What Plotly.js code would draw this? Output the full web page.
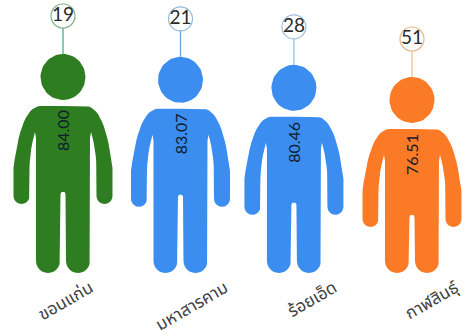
<!DOCTYPE html>
<html>
<head>
<meta charset="utf-8">
<script src="https://cdn.plot.ly/plotly-3.0.1.min.js"></script>
<style>html,body{margin:0;padding:0;background:#fff}#c{width:468px;height:336px}</style>
</head>
<body>
<div id="c"></div>
<script>
// Data
const provinces = ["ขอนแก่น", "มหาสารคาม", "ร้อยเอ็ด", "กาฬสินธุ์"];
const values = [84.00, 83.07, 80.46, 76.51];
const valueLabels = ["84.00", "83.07", "80.46", "76.51"];
const ranks = [19, 21, 28, 51];
const bodyColors = ["#2e7d20", "#3b8df0", "#3b8df0", "#fb7a26"];
const stemColors = ["#5aa39a", "#62a8dc", "#8cc0e8", "#f6bd85"];
const ringColors = ["#7fb08a", "#8fb8dc", "#9fbfdc", "#e0b98a"];
const slots = [0, 1.01, 1.985, 3];
const labelNudges = [-0.11, 0.04, 0, 0.03];

// Scale: px per axis unit
const W = 468, H = 336, PLOT_B = 62;
const X0 = 63, PX_X = 116.33;
const BASE = 12.66, PX_Y = 3.07, PLOT_H = H - PLOT_B, BASE_PX = 273;

// Figure glyph, drawn in px offsets from the head top on the figure's centre
function arc(cx, cy, rx, ry, a0, a1, n) {
  const out = [];
  for (let k = 0; k <= n; k++) {
    const a = (a0 + (a1 - a0) * k / n) * Math.PI / 180;
    out.push([cx + rx * Math.cos(a), cy + ry * Math.sin(a)]);
  }
  return out;
}
function quad(p0, c, p1, n) {
  const out = [];
  for (let k = 0; k <= n; k++) {
    const t = k / n, u = 1 - t;
    out.push([u*u*p0[0] + 2*u*t*c[0] + t*t*p1[0], u*u*p0[1] + 2*u*t*c[1] + t*t*p1[1]]);
  }
  return out;
}
function halfBody(L) {
  return [].concat(
    [[0, 52]],
    quad([23, 52], [42, 53], [49.5, 114], 14),
    [[49.5, 142]],
    arc(41.5, 142, 8, 8, 0, 180, 10),
    quad([33.5, 114], [33, 95], [28, 78], 6),
    [[27, 84], [27, L - 12]],
    arc(15, L - 12, 12, 12, 0, 180, 12),
    [[2.5, 140], [1.5, 138], [0, 138]]
  );
}
function figure(i) {
  const x = [], y = [];
  const head = values[i];
  const L = (head - BASE) * PX_Y;
  const add = p => { x.push(slots[i] + p[0] / PX_X); y.push(head - p[1] / PX_Y); };
  arc(0, 23, 22.5, 23, 0, 360, 60).forEach(add);
  x.push(null); y.push(null);
  const right = halfBody(L);
  right.forEach(add);
  right.slice().reverse().forEach(p => add([-p[0], p[1]]));
  return { x, y };
}

const traces = [];
provinces.forEach((name, i) => {
  const g = figure(i);
  traces.push({
    type: "scatter", mode: "lines", x: g.x, y: g.y, fill: "toself",
    fillcolor: bodyColors[i], line: { width: 0, color: bodyColors[i] },
    hoverinfo: "skip", showlegend: false, name
  });
  traces.push({
    type: "scatter", mode: "lines",
    x: [slots[i], slots[i]], y: [values[i], values[i] + 38 / PX_Y],
    line: { color: stemColors[i], width: 1.3 }, hoverinfo: "skip", showlegend: false
  });
  traces.push({
    type: "scatter", mode: "markers+text",
    x: [slots[i]], y: [values[i] + 38 / PX_Y],
    text: [String(ranks[i])], textposition: "middle center",
    textfont: { family: "Lato, sans-serif", size: 19, color: "#2a2a2a" },
    marker: { size: 24, color: "#ffffff", line: { color: ringColors[i], width: 1.2 } },
    hoverinfo: "skip", showlegend: false
  });
});

const annotations = provinces.map((_, i) => ({
  x: slots[i], y: values[i] - 77 / PX_Y, xref: "x", yref: "y",
  text: valueLabels[i], showarrow: false, textangle: -90,
  font: { family: "Lato, sans-serif", size: 16, color: "#10202e" }
}));

const layout = {
  width: W, height: H,
  margin: { l: 0, r: 0, t: 0, b: PLOT_B, pad: 0 },
  paper_bgcolor: "#ffffff", plot_bgcolor: "#ffffff",
  showlegend: false,
  xaxis: {
    range: [-X0 / PX_X, (W - X0) / PX_X], fixedrange: true,
    tickmode: "array", tickvals: slots.map((s, i) => s + labelNudges[i]), ticktext: provinces, tickangle: -30,
    ticklabelshift: 40, ticklabelstandoff: 0,
    tickfont: { family: "'Noto Sans', 'Noto Sans Thai', sans-serif", size: 17, color: "#404040" },
    ticks: "", showgrid: false, zeroline: false, showline: false
  },
  yaxis: {
    range: [BASE - (PLOT_H - BASE_PX) / PX_Y, BASE + BASE_PX / PX_Y], fixedrange: true,
    visible: false, showgrid: false, zeroline: false
  },
  annotations
};
Plotly.newPlot("c", traces, layout, { displayModeBar: false, staticPlot: true });
</script>
</body>
</html>
